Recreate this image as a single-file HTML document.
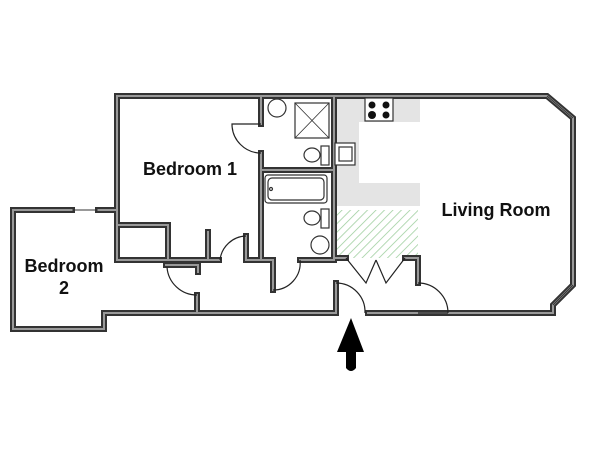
<!DOCTYPE html>
<html><head><meta charset="utf-8"><style>
html,body{margin:0;padding:0;background:#fff;width:600px;height:450px;overflow:hidden}
svg{display:block}
text{font-family:"Liberation Sans",Arial,sans-serif;font-weight:bold;fill:#111}
</style></head><body>
<svg width="600" height="450" viewBox="0 0 600 450" xmlns="http://www.w3.org/2000/svg">
<defs>
<pattern id="h" width="6" height="6" patternUnits="userSpaceOnUse" patternTransform="rotate(45)">
<rect width="6" height="6" fill="#fff"/><line x1="0" y1="0" x2="0" y2="6" stroke="#9c9" stroke-width="1.5"/>
</pattern>
</defs>
<path d="M334,98 H420 V122 H359 V183 H420 V206 H334 Z" fill="#e4e4e4"/>
<rect x="334" y="210" width="84" height="48" fill="url(#h)"/>
<g fill="none" stroke-linejoin="miter" stroke-linecap="square">
<g stroke="#333" stroke-width="6">
<path d="M117,96 H547 L573,118 V285 L553,305 V313 H368"/>
<path d="M336,313 H197 M197,295 V313 M197,313 H117 M117,313 H104 V329 H13 V210 H72 M98,210 H117"/>
<path d="M117,96 V260 H219 M246,260 H273 M300,260 H334"/>
<path d="M117,225 H168 V260 M208,232 V260"/>
<path d="M166,265 H198 M198,265 V272"/>
<path d="M261,96 V124 M261,153 V260"/>
<path d="M334,96 V258 M261,170 H334"/>
<path d="M273,260 V290 M246,260 V236"/>
<path d="M334,258 H346 M405,258 H418 V283 M336,283 V313"/>
</g>
<g stroke="#999" stroke-width="2">
<path d="M117,96 H547 L573,118 V285 L553,305 V313 H368"/>
<path d="M336,313 H197 M197,295 V313 M197,313 H117 M117,313 H104 V329 H13 V210 H72 M98,210 H117"/>
<path d="M117,96 V260 H219 M246,260 H273 M300,260 H334"/>
<path d="M117,225 H168 V260 M208,232 V260"/>
<path d="M166,265 H198 M198,265 V272"/>
<path d="M261,96 V124 M261,153 V260"/>
<path d="M334,96 V258 M261,170 H334"/>
<path d="M273,260 V290 M246,260 V236"/>
<path d="M334,258 H346 M405,258 H418 V283 M336,283 V313"/>
</g>
</g>
<g stroke="#333" stroke-width="1" fill="none">
<line x1="72" y1="210" x2="98" y2="210"/>
<line x1="547" y1="96" x2="573" y2="118"/>
<line x1="573" y1="285" x2="553" y2="305"/>
</g>
<g stroke="#222" stroke-width="1.2" fill="none">
<path d="M261,124 H232 A29,29 0 0 0 261,153"/>
<path d="M246,236 A27,27 0 0 0 220,260"/>
<path d="M273,290 A27,27 0 0 0 300,260"/>
<path d="M167,267 A30,30 0 0 0 197,295"/>
<path d="M336,283 A29,29 0 0 1 365,313"/>
<path d="M418,283 A30,30 0 0 1 448,313 M418,313 H448"/>
<path d="M346,258 L366,283 L376,260 M405,258 L386,283 L376,260"/>
</g>
<g stroke="#333" stroke-width="1.2" fill="#fff">
<circle cx="277" cy="108" r="9"/>
<rect x="295" y="103" width="34" height="35"/>
<path d="M295,103 L329,138 M329,103 L295,138" fill="none" stroke-width="0.8"/>
<rect x="321" y="146" width="8" height="19"/>
<ellipse cx="312" cy="155" rx="8" ry="7"/>
<rect x="265" y="175" width="62" height="28" rx="3"/>
<rect x="268" y="178" width="56" height="22" rx="4"/>
<circle cx="271" cy="189" r="1.5"/>
<rect x="321" y="209" width="8" height="19"/>
<ellipse cx="312" cy="218" rx="8" ry="7"/>
<circle cx="320" cy="245" r="9"/>
<rect x="335" y="143" width="20" height="22"/>
<rect x="339" y="147" width="13" height="14"/>
<rect x="365" y="98" width="28" height="23"/>
</g>
<g fill="#111">
<circle cx="372" cy="105" r="3.5"/><circle cx="386" cy="105" r="3.5"/>
<circle cx="372" cy="115" r="4"/><circle cx="386" cy="115" r="3.5"/>
</g>
<path d="M351,318 L364,352 H356 V368 Q351,374 346,368 V352 H337 Z" fill="#000"/>
<text x="190" y="175" font-size="18" text-anchor="middle">Bedroom 1</text>
<text x="496" y="216" font-size="18" text-anchor="middle">Living Room</text>
<text x="64" y="272" font-size="18" text-anchor="middle">Bedroom</text>
<text x="64" y="294" font-size="18" text-anchor="middle">2</text>
</svg>
</body></html>
